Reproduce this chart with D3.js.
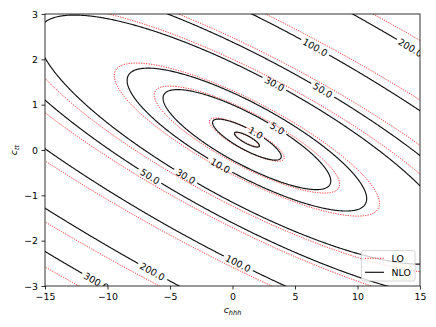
<!DOCTYPE html>
<html><head><meta charset="utf-8">
<script src="https://cdn.jsdelivr.net/npm/d3@7"></script>
<style>
body{margin:0;background:#fff;}
svg{display:block;font-family:"DejaVu Sans",sans-serif;}
</style></head><body>
<svg id="chart" width="436" height="327"></svg>
<script>
// ---------------- data ----------------
const xTicks = [-15, -10, -5, 0, 5, 10, 15];
const yTicks = [-3, -2, -1, 0, 1, 2, 3];
const xDomain = [-15, 15];
const yDomain = [-3, 3];
const levels = [0.3, 1, 5, 10, 30, 50, 100, 200, 300];
const seriesNames = ["LO", "NLO"];
// sigma/sigma_SM = k0 + k1*c_hhh + k2*c_tt + k3*c_hhh^2 + k4*c_hhh*c_tt + k5*c_tt^2
const loCoef  = [1.99, -1.348, -8.648, 0.286, 3.00, 11.3];
const nloCoef = [2.2, -1.56, -9.66, 0.338, 3.40, 12.5];
// contour labels on the NLO curves (level and approximate spot)
const labelLevels = [1, 5, 10, 30, 30, 50, 50, 100, 100, 200, 200, 300];
const labelHHH = [1.88, 3.64, -1.0, -3.72, 3.4, -6.52, 7.24, 6.6, 0.44, 14.4, -6.36, -10.84];
const labelTT  = [0.40, 0.49, -0.375, -0.57, 1.48, -0.55, 1.32, 2.27, -2.49, 2.33, -2.67, -2.85];

// ---------------- layout ----------------
const X0 = 45, X1 = 420, Y0 = 14, Y1 = 286;
const FS = 9.4;
const svg = d3.select("#chart");
const x = d3.scaleLinear().domain(xDomain).range([X0, X1]);
const y = d3.scaleLinear().domain(yDomain).range([Y1, Y0]);

svg.append("defs").append("clipPath").attr("id", "clip")
  .append("rect").attr("x", X0).attr("y", Y0).attr("width", X1 - X0).attr("height", Y1 - Y0);

// grid (extends beyond the axes so that the grid border is clipped away)
const gxMin = -16.5, gxMax = 16.5, gyMin = -3.6, gyMax = 3.6, sx = 0.08, sy = 0.02;
const nx = Math.round((gxMax - gxMin) / sx) + 1, ny = Math.round((gyMax - gyMin) / sy) + 1;
function poly(k, a, b) { return k[0] + k[1]*a + k[2]*b + k[3]*a*a + k[4]*a*b + k[5]*b*b; }
function grid(k) {
  const v = new Float64Array(nx * ny);
  for (let j = 0; j < ny; j++) {
    const b = gyMin + j * sy;
    for (let i = 0; i < nx; i++) v[j * nx + i] = poly(k, gxMin + i * sx, b);
  }
  return v;
}
const cgen = d3.contours().size([nx, ny]).thresholds(levels);
function toRings(k) {
  return cgen(grid(k)).map(c => ({
    value: c.value,
    rings: c.coordinates.flat().map(r => {
      const pts = r.map(p => [x(gxMin + (p[0] - 0.5) * sx), y(gyMin + (p[1] - 0.5) * sy)]);
      const f = pts[0], l = pts[pts.length - 1];
      if (f[0] !== l[0] || f[1] !== l[1]) pts.push([f[0], f[1]]);
      return pts;
    })
  }));
}
const lo = toRings(loCoef);
const nlo = toRings(nloCoef);
const line = d3.line();

const plot = svg.append("g").attr("clip-path", "url(#clip)");

// LO contours
const loStyle = {stroke: "#ff2020", dash: "1.2,1.3", w: 0.95};
const nloStyle = {stroke: "#111", dash: null, w: 1.15};
const gLo = plot.append("g").attr("fill", "none").attr("stroke", loStyle.stroke)
  .attr("stroke-width", loStyle.w).attr("stroke-dasharray", loStyle.dash);
lo.forEach(c => c.rings.forEach(r => gLo.append("path").attr("d", line(r))));

// helpers
function cum(pts) {
  const s = [0];
  for (let i = 1; i < pts.length; i++) s.push(s[i-1] + Math.hypot(pts[i][0]-pts[i-1][0], pts[i][1]-pts[i-1][1]));
  return s;
}
function splitRing(pts, gaps) {
  if (!gaps.length) return [pts];
  const n = pts.length, s = cum(pts), L = s[n-1];
  const inGap = i => gaps.some(([s0, h]) => { let d = Math.abs(s[i] - s0); d = Math.min(d, L - d); return d < h; });
  let start = -1;
  for (let i = 0; i < n - 1; i++) if (!inGap(i)) { start = i; break; }
  if (start < 0) return [];
  const segs = []; let cur = [];
  for (let t = 0; t < n; t++) {
    const i = (start + t) % (n - 1);
    if (inGap(i)) { if (cur.length > 1) segs.push(cur); cur = []; }
    else cur.push(pts[i]);
  }
  if (cur.length > 1) segs.push(cur);
  return segs;
}
const fmt = d3.format(".1f");
function textWidth(str) {
  const t = svg.append("text").attr("font-size", FS).text(str);
  const w = t.node().getComputedTextLength(); t.remove(); return w;
}

// place labels on NLO rings
const gapsByRing = new Map();
const labels = [];
labelLevels.forEach((lev, i) => {
  const c = nlo.find(d => d.value === lev);
  if (!c) return;
  const ax = x(labelHHH[i]), ay = y(labelTT[i]);
  let best = null;
  c.rings.forEach((r, ri) => r.forEach((p, pi) => {
    const d = Math.hypot(p[0] - ax, p[1] - ay);
    if (!best || d < best.d) best = {d, ri, pi};
  }));
  const r = c.rings[best.ri], s = cum(r), n = r.length;
  const txt = fmt(lev), w = textWidth(txt), h = w / 2 + 2.5;
  const key = lev + "_" + best.ri;
  if (!gapsByRing.has(key)) gapsByRing.set(key, []);
  gapsByRing.get(key).push([s[best.pi], h]);
  const m = 6;
  const a = r[(best.pi - m + (n - 1) * 2) % (n - 1)], b = r[(best.pi + m) % (n - 1)];
  let ang = Math.atan2(b[1] - a[1], b[0] - a[0]) * 180 / Math.PI;
  if (ang > 90) ang -= 180; if (ang < -90) ang += 180;
  labels.push({txt, p: r[best.pi], ang});
});

const gN = plot.append("g").attr("fill", "none").attr("stroke", nloStyle.stroke).attr("stroke-width", nloStyle.w);
nlo.forEach(c => c.rings.forEach((r, ri) => {
  const gaps = gapsByRing.get(c.value + "_" + ri) || [];
  splitRing(r, gaps).forEach(seg => gN.append("path").attr("d", line(seg)));
}));

plot.append("g").selectAll("text").data(labels).join("text")
  .attr("font-size", FS).attr("fill", "#000").attr("text-anchor", "middle")
  .attr("dominant-baseline", "central")
  .attr("transform", d => `translate(${d.p[0]},${d.p[1]}) rotate(${d.ang})`)
  .text(d => d.txt);

// axes
const gx = svg.append("g").attr("transform", `translate(0,${Y1})`)
  .call(d3.axisBottom(x).tickValues(xTicks).tickSize(3.5).tickPadding(3.5).tickFormat(d3.format("d")));
const gy = svg.append("g").attr("transform", `translate(${X0},0)`)
  .call(d3.axisLeft(y).tickValues(yTicks).tickSize(3.5).tickPadding(3.5).tickFormat(d3.format("d")));
[gx, gy].forEach(g => {
  g.select(".domain").remove();
  g.attr("font-size", FS).attr("font-family", "DejaVu Sans");
  g.selectAll("line").attr("stroke", "#000").attr("stroke-width", 0.8);
  g.selectAll("text").attr("fill", "#000");
});
svg.append("rect").attr("x", X0).attr("y", Y0).attr("width", X1 - X0).attr("height", Y1 - Y0)
  .attr("fill", "none").attr("stroke", "#000").attr("stroke-width", 0.8);

// axis labels
const xl = svg.append("text").attr("x", 232.5).attr("y", 312.5).attr("text-anchor", "middle")
  .attr("font-size", FS).attr("fill", "#000");
xl.append("tspan").attr("font-style", "italic").text("c");
xl.append("tspan").attr("font-style", "italic").attr("font-size", FS * 0.7).attr("dy", 2.3).text("hhh");
const yl = svg.append("text").attr("transform", "translate(16.5,150) rotate(-90)").attr("text-anchor", "middle")
  .attr("font-size", FS).attr("fill", "#000");
yl.append("tspan").attr("font-style", "italic").text("c");
yl.append("tspan").attr("font-style", "italic").attr("font-size", FS * 0.7).attr("dy", 2.3).text("tt");

// legend
const lg = svg.append("g");
lg.append("rect").attr("x", 361.5).attr("y", 250.5).attr("width", 53.5).attr("height", 30.5).attr("rx", 2)
  .attr("fill", "#fff").attr("fill-opacity", 0.8).attr("stroke", "#cccccc").attr("stroke-width", 0.8);
const legStyles = [loStyle, nloStyle];
seriesNames.forEach((name, i) => {
  const yy = 258.3 + i * 14;
  lg.append("line").attr("x1", 365).attr("x2", 384).attr("y1", yy).attr("y2", yy)
    .attr("stroke", legStyles[i].stroke).attr("stroke-width", legStyles[i].w)
    .attr("stroke-dasharray", legStyles[i].dash);
  lg.append("text").attr("x", 391.5).attr("y", yy).attr("dy", "0.35em").attr("font-size", FS)
    .attr("fill", "#000").text(name);
});
</script>
</body></html>
